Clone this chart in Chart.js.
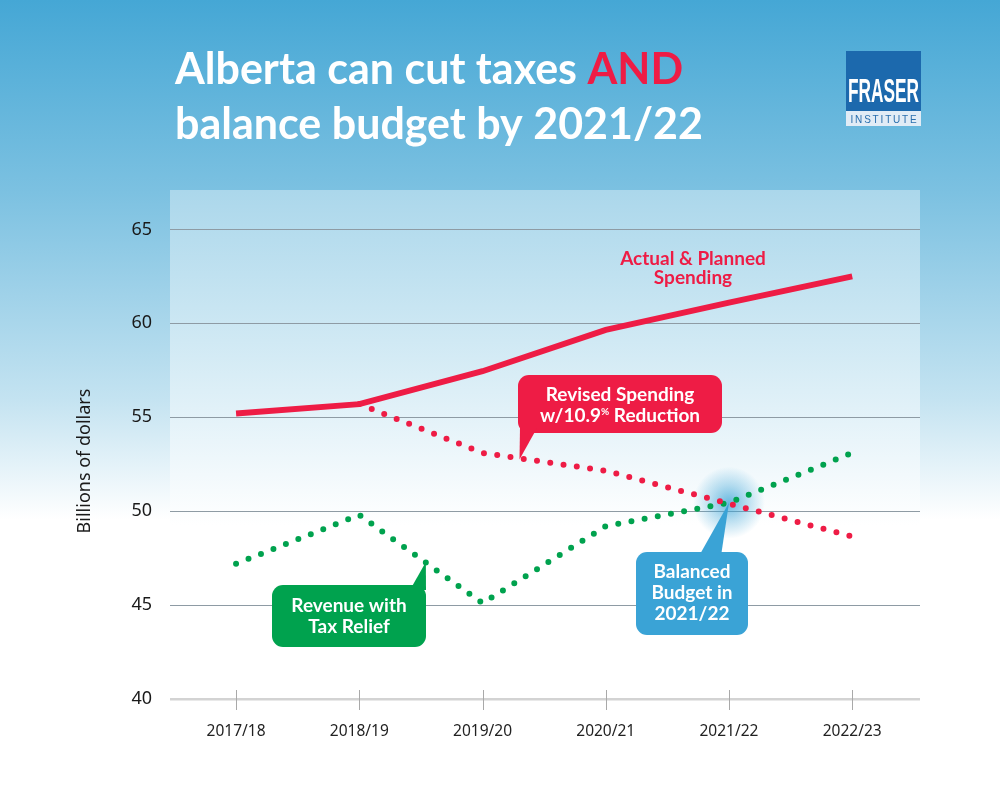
<!DOCTYPE html>
<html>
<head>
<meta charset="utf-8">
<title>Alberta can cut taxes AND balance budget by 2021/22</title>
<script src="https://cdn.jsdelivr.net/npm/chart.js@4.4.0/dist/chart.umd.min.js"></script>
<style>
  html, body { margin: 0; padding: 0; background: #fff; }
  #wrap { width: 1000px; height: 800px; }
</style>
</head>
<body>
<div id="wrap"><canvas id="budgetChart" width="1000" height="800"></canvas></div>
<script>
// values (billions of dollars)
const years = ['2017/18', '2018/19', '2019/20', '2020/21', '2021/22', '2022/23'];
const spending = [55.2, 55.7, 57.45, 59.65, 61.1, 62.5];
const revisedSpending = [null, 55.7, 53.1, 52.15, 50.4, 48.65];
const revenue = [47.2, 49.8, 45.1, 49.2, 50.45, 53.1];
const yTicks = [40, 45, 50, 55, 60, 65];

const RED = '#ee1c45';
const GREEN = '#00a24e';
const BLUE = '#3aa3d6';

function toPoints(values) {
    return values.map((v, i) => ({ x: i, y: v }));
}

// callout box with a pointer tail
function callout(ctx, box, tail, color, lines, lineGap) {
    ctx.save();
    ctx.fillStyle = color;
    ctx.beginPath();
    ctx.roundRect(box.x, box.y, box.w, box.h, 11);
    ctx.fill();
    ctx.beginPath();
    ctx.moveTo(tail[0][0], tail[0][1]);
    ctx.lineTo(tail[1][0], tail[1][1]);
    ctx.lineTo(tail[2][0], tail[2][1]);
    ctx.closePath();
    ctx.fill();
    ctx.fillStyle = '#fff';
    ctx.font = 'bold 19px Lato';
    ctx.textAlign = 'center';
    ctx.textBaseline = 'alphabetic';
    const cx = box.x + box.w / 2;
    lines.forEach((t, i) => {
        if (typeof t === 'string') {
            ctx.fillText(t, cx, box.firstBase + i * lineGap);
        } else {
            t(ctx, cx, box.firstBase + i * lineGap);
        }
    });
    ctx.restore();
}

const backgroundPlugin = {
    id: 'background',
    beforeDraw(chart) {
        const ctx = chart.ctx;
        const a = chart.chartArea;
        ctx.save();
        // page gradient
        let g = ctx.createLinearGradient(0, 0, 0, 800);
        g.addColorStop(0, '#45a7d5');
        g.addColorStop(0.24, '#7cc1e1');
        g.addColorStop(0.5, '#c4e3f1');
        g.addColorStop(0.65, '#ffffff');
        g.addColorStop(1, '#ffffff');
        ctx.fillStyle = g;
        ctx.fillRect(0, 0, chart.width, chart.height);

        // plot panel
        let g2 = ctx.createLinearGradient(0, a.top, 0, 525);
        g2.addColorStop(0, '#abd7eb');
        g2.addColorStop(0.5, '#d4ebf5');
        g2.addColorStop(1, '#ffffff');
        ctx.fillStyle = g2;
        ctx.fillRect(a.left, a.top, a.right - a.left, 525 - a.top);
        ctx.fillStyle = '#ffffff';
        ctx.fillRect(a.left, 525, a.right - a.left, a.bottom - 525);

        // title
        ctx.font = 'bold 43px Lato';
        ctx.textBaseline = 'alphabetic';
        ctx.textAlign = 'left';
        ctx.fillStyle = '#ffffff';
        const first = 'Alberta can cut taxes ';
        ctx.fillText(first, 175, 84);
        ctx.fillStyle = RED;
        ctx.fillText('AND', 175 + ctx.measureText(first).width, 84);
        ctx.fillStyle = '#ffffff';
        ctx.fillText('balance budget by 2021/22', 175, 139);

        // logo
        ctx.fillStyle = '#1c69ad';
        ctx.fillRect(846, 51, 75, 60);
        ctx.fillStyle = '#e1ecf6';
        ctx.fillRect(846, 111, 75, 15);
        ctx.fillStyle = '#ffffff';
        ctx.font = 'bold 33px "Liberation Sans"';
        ctx.textAlign = 'center';
        ctx.fillText('FRASER', 883.5, 102, 71);
        ctx.fillStyle = '#2a6fae';
        ctx.font = '11px "Liberation Sans"';
        ctx.letterSpacing = '2px';
        ctx.fillText('INSTITUTE', 884.5, 123, 68);
        ctx.letterSpacing = '0px';
        ctx.restore();
    },
    beforeDatasetsDraw(chart) {
        // glow around the balance point
        const ctx = chart.ctx;
        const x = chart.scales.x.getPixelForValue(4);
        const y = chart.scales.y.getPixelForValue(50.45);
        ctx.save();
        const rg = ctx.createRadialGradient(x, y, 0, x, y, 36);
        rg.addColorStop(0, 'rgba(58,163,214,0.75)');
        rg.addColorStop(0.5, 'rgba(58,163,214,0.35)');
        rg.addColorStop(1, 'rgba(58,163,214,0)');
        ctx.fillStyle = rg;
        ctx.beginPath();
        ctx.arc(x, y, 36, 0, Math.PI * 2);
        ctx.fill();
        ctx.restore();
    },
    afterDraw(chart) {
        const ctx = chart.ctx;
        const a = chart.chartArea;
        const xs = chart.scales.x;
        const ys = chart.scales.y;
        ctx.save();

        // x tick marks crossing the axis line
        ctx.strokeStyle = '#a9a9a9';
        ctx.lineWidth = 1;
        years.forEach((_, i) => {
            const px = Math.round(xs.getPixelForValue(i)) + 0.5;
            ctx.beginPath();
            ctx.moveTo(px, a.bottom - 9);
            ctx.lineTo(px, a.bottom + 11);
            ctx.stroke();
        });

        // y axis title
        ctx.save();
        ctx.translate(85, 461);
        ctx.rotate(-Math.PI / 2);
        ctx.fillStyle = '#1a1a1a';
        ctx.font = '18px "Noto Sans"';
        ctx.textAlign = 'center';
        ctx.textBaseline = 'middle';
        ctx.fillText('Billions of dollars', 0, 0);
        ctx.restore();

        // spending label
        ctx.fillStyle = RED;
        ctx.font = 'bold 19px Lato';
        ctx.textAlign = 'center';
        ctx.fillText('Actual & Planned', 693, 265);
        ctx.fillText('Spending', 693, 284);

        // revised spending callout
        const tipR = [xs.getPixelForValue(2.3), ys.getPixelForValue(52.75)];
        callout(ctx, { x: 518, y: 375, w: 204, h: 58, firstBase: 401 },
            [[520, 428], [537, 428], tipR], RED,
            ['Revised Spending', (c, cx, by) => {
                const a1 = 'w/10.9', pc = '%', a2 = ' Reduction';
                c.font = 'bold 19px Lato';
                const w1 = c.measureText(a1).width;
                const w3 = c.measureText(a2).width;
                c.font = 'bold 10px Lato';
                const w2 = c.measureText(pc).width;
                let sx = cx - (w1 + w2 + w3) / 2;
                c.textAlign = 'left';
                c.font = 'bold 19px Lato';
                c.fillText(a1, sx, by);
                c.font = 'bold 10px Lato';
                c.fillText(pc, sx + w1, by - 7);
                c.font = 'bold 19px Lato';
                c.fillText(a2, sx + w1 + w2, by);
                c.textAlign = 'center';
            }], 21);

        // revenue callout
        const tipG = [xs.getPixelForValue(1.54), ys.getPixelForValue(47.3)];
        callout(ctx, { x: 272, y: 585, w: 154, h: 62, firstBase: 612 },
            [[410, 590], [426, 590], tipG], GREEN,
            ['Revenue with', 'Tax Relief'], 21);

        // balanced budget callout
        const tipB = [xs.getPixelForValue(4), ys.getPixelForValue(50.45)];
        callout(ctx, { x: 636, y: 552, w: 112, h: 83, firstBase: 578 },
            [[699, 556], [721, 556], tipB], BLUE,
            ['Balanced', 'Budget in', '2021/22'], 21);

        ctx.restore();
    }
};

const chartCtx = document.getElementById('budgetChart').getContext('2d');
new Chart(chartCtx, {
    type: 'line',
    data: {
        datasets: [
            {
                label: 'Actual & Planned Spending',
                data: toPoints(spending),
                borderColor: RED,
                borderWidth: 6,
                pointRadius: 0,
                tension: 0
            },
            {
                label: 'Revised Spending w/10.9% Reduction',
                data: toPoints(revisedSpending),
                borderColor: RED,
                borderWidth: 6,
                borderDash: [0, 13.4],
                borderCapStyle: 'round',
                pointRadius: 0,
                tension: 0
            },
            {
                label: 'Revenue with Tax Relief',
                data: toPoints(revenue),
                borderColor: GREEN,
                borderWidth: 6,
                borderDash: [0, 13.4],
                borderCapStyle: 'round',
                pointRadius: 0,
                tension: 0
            }
        ]
    },
    options: {
        responsive: false,
        animation: false,
        devicePixelRatio: 1,
        layout: { padding: { top: 190, right: 80, left: 0, bottom: 0 } },
        plugins: {
            legend: { display: false },
            tooltip: { enabled: false },
            title: { display: false }
        },
        scales: {
            x: {
                type: 'linear',
                min: -0.536,
                max: 5.55,
                afterBuildTicks: s => { s.ticks = years.map((_, i) => ({ value: i })); },
                afterFit: s => { s.height = 101; },
                ticks: {
                    callback: v => years[v],
                    autoSkip: false,
                    maxRotation: 0,
                    padding: 15,
                    color: '#222',
                    font: { family: 'Noto Sans', size: 15.5 }
                },
                grid: { display: false },
                border: { display: false }
            },
            y: {
                min: 40,
                max: 67.1,
                afterBuildTicks: s => { s.ticks = yTicks.map(v => ({ value: v })); },
                afterFit: s => { s.width = 170; },
                ticks: {
                    padding: 18,
                    color: '#1a1a1a',
                    font: { family: 'Noto Sans', size: 18 }
                },
                grid: {
                    drawTicks: false,
                    color: c => c.tick && c.tick.value === 40 ? '#d3d3d3' : '#8e9ba4',
                    lineWidth: c => c.tick && c.tick.value === 40 ? 2.5 : 1
                },
                border: { display: false }
            }
        }
    },
    plugins: [backgroundPlugin]
});
</script>
</body>
</html>
